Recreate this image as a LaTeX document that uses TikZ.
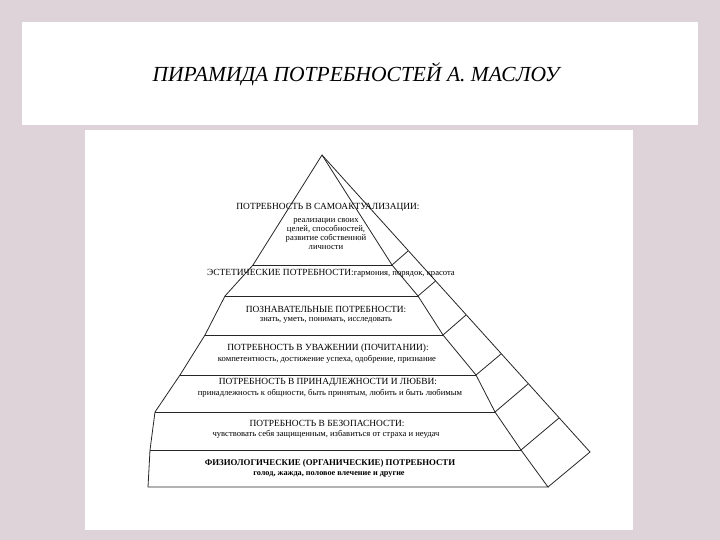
\documentclass[tikz,border=0pt]{standalone}
\usepackage{fontspec}
\setmainfont{Liberation Serif}
\begin{document}
\begin{tikzpicture}[x=1pt,y=-1pt,
  ln/.style={draw=black!85,line width=0.8pt},
  captxt/.style={font=\fontsize{9.4}{10}\selectfont,inner sep=0pt},
  sub/.style={font=\fontsize{8.6}{9}\selectfont,inner sep=0pt,align=center}]
\fill[fill={rgb,255:red,221;green,211;blue,216}] (0,0) rectangle (720,540);
\useasboundingbox (0,0) rectangle (720,540);
\fill[white] (22,22) rectangle (698,125);
\fill[white] (85,130) rectangle (633,530);
\node[font=\itshape\fontsize{21.5}{24}\selectfont] (title) at (356,74) {ПИРАМИДА ПОТРЕБНОСТЕЙ А. МАСЛОУ};
\coordinate (A) at (322,155);
\coordinate (L1) at (253,265); \coordinate (R1) at (392,265);
\coordinate (L2) at (225,296); \coordinate (R2) at (418,296);
\coordinate (L3) at (205,335); \coordinate (R3) at (443,335);
\coordinate (L4) at (180,375); \coordinate (R4) at (476,375);
\coordinate (L5) at (155,412); \coordinate (R5) at (495,412);
\coordinate (L6) at (150,450); \coordinate (R6) at (521,450);
\coordinate (L7) at (148,487); \coordinate (R7) at (548,487);
\coordinate (B) at (590,452);
\coordinate (S1) at (408,251); \coordinate (S2) at (435.5,281);
\coordinate (S3) at (466,315); \coordinate (S4) at (501,354);
\coordinate (S5) at (528,384); \coordinate (S6) at (559,418);
\draw[ln] (A) -- (L1) -- (L2) -- (L3) -- (L4) -- (L5) -- (L6) -- (L7) -- (R7) -- (R6) -- (R5) -- (R4) -- (R3) -- (R2) -- (R1) -- cycle;
\draw[ln] (A) -- (B) -- (R7);
\foreach \i in {1,...,6}{\draw[ln] (L\i) -- (R\i); \draw[ln] (R\i) -- (S\i);}
\node[captxt] (t1) at (328,207) {ПОТРЕБНОСТЬ В САМОАКТУАЛИЗАЦИИ:};
\node[sub] (s1) at (326,234) {реализации своих\\целей, способностей,\\развитие собственной\\личности};
\node[captxt] (t2) at (331,273) {ЭСТЕТИЧЕСКИЕ ПОТРЕБНОСТИ:{\fontsize{8.6}{9}\selectfont гармония, порядок, красота}};
\node[captxt] (t3) at (326,309) {ПОЗНАВАТЕЛЬНЫЕ ПОТРЕБНОСТИ:};
\node[sub] (s3) at (326,320) {знать, уметь, понимать, исследовать};
\node[captxt] (t4) at (328,348) {ПОТРЕБНОСТЬ В УВАЖЕНИИ (ПОЧИТАНИИ):};
\node[sub] (s4) at (327,359) {компетентность, достижение успеха, одобрение, признание};
\node[captxt] (t5) at (328,382) {ПОТРЕБНОСТЬ В ПРИНАДЛЕЖНОСТИ И ЛЮБВИ:};
\node[sub] (s5) at (330,393) {принадлежность к общности, быть принятым, любить и быть любимым};
\node[captxt] (t6) at (327,423) {ПОТРЕБНОСТЬ В БЕЗОПАСНОСТИ:};
\node[sub] (s6) at (326,434) {чувствовать себя защищенным, избавиться от страха и неудач};
\node[captxt,font=\bfseries\fontsize{8.8}{9}\selectfont] (t7) at (330,463) {ФИЗИОЛОГИЧЕСКИЕ (ОРГАНИЧЕСКИЕ) ПОТРЕБНОСТИ};
\node[sub,font=\bfseries\fontsize{8.2}{9}\selectfont] (s7) at (329,474) {голод, жажда, половое влечение и другие};
\end{tikzpicture}
\end{document}
